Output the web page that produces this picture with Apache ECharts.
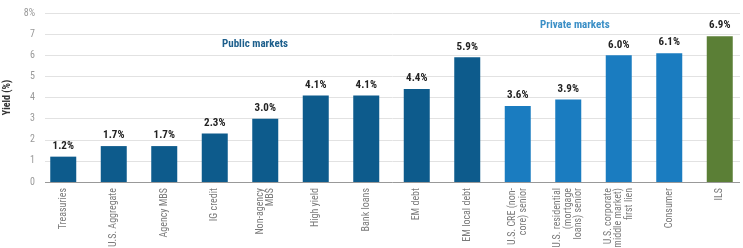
<!DOCTYPE html>
<html>
<head>
<meta charset="utf-8">
<script src="https://cdn.jsdelivr.net/npm/echarts@6/dist/echarts.min.js"></script>
<style>html,body{margin:0;padding:0;background:#fff;}#c{width:743px;height:248px;}</style>
</head>
<body>
<div id="c"></div>
<script>
const categories = ["Treasuries","U.S. Aggregate","Agency MBS","IG credit","Non-agency\nMBS","High yield","Bank loans","EM debt","EM local debt","U.S. CRE (non-\ncore) senior","U.S. residential\n(mortgage\nloans) senior","U.S. corporate\n(middle market)\nfirst lien","Consumer","ILS"];
const yields = [1.2,1.7,1.7,2.3,3.0,4.1,4.1,4.4,5.9,3.6,3.9,6.0,6.1,6.9];
const groups = ["public","public","public","public","public","public","public","public","public","private","private","private","private","ils"];
const yTicks = ["0","1","2","3","4","5","6","7","8%"];

const colors = {public:"#0d5b8c", private:"#1a7cc0", ils:"#5b7f36"};
const font = "'Liberation Sans Narrow','Roboto Condensed','Roboto',sans-serif";

const chart = echarts.init(document.getElementById('c'), null, {renderer:'canvas'});
chart.setOption({
  animation:false,
  grid:[
    {left:45, right:3, top:13, bottom:66, outerBoundsMode:'none', containLabel:false},
    {left:38, width:707, top:13, bottom:66, outerBoundsMode:'none', containLabel:false}
  ],
  xAxis:[
    {gridIndex:0, type:'category', data:categories, show:false},
    {gridIndex:1, type:'category', data:categories,
     axisLine:{show:false}, axisTick:{show:false},
     axisLabel:{interval:0, rotate:90, color:'#7a7a7a', fontSize:10, lineHeight:10.5, fontFamily:font, margin:6}}
  ],
  yAxis:[
    {gridIndex:0, type:'value', min:0, max:8, interval:1,
     name:'Yield (%)', nameLocation:'middle', nameGap:28, nameRotate:90,
     nameTextStyle:{color:'#333', fontWeight:'bold', fontSize:10, fontFamily:font},
     axisLine:{show:false}, axisTick:{show:false},
     axisLabel:{color:'#999', fontSize:10, fontFamily:font, margin:10, formatter:(v)=>yTicks[v]},
     splitLine:{lineStyle:{color:'#e2e2e2', width:1}}},
    {gridIndex:1, type:'value', min:0, max:8, interval:1, show:false, splitLine:{show:false}}
  ],
  series:[
    {type:'bar', xAxisIndex:1, yAxisIndex:1, barWidth:26,
     data:yields.map((v,i)=>({value:v, itemStyle:{color:colors[groups[i]]}})),
     label:{show:true, position:'top', distance:5, color:'#222', fontWeight:'bold', fontSize:11, fontFamily:font,
       formatter:(p)=>p.value.toFixed(1)+'%'}},
    {type:'line', xAxisIndex:0, yAxisIndex:0, data:[], silent:true,
     markLine:{symbol:'none', silent:true, label:{show:false}, lineStyle:{color:'#999', type:'solid', width:1}, data:[{yAxis:0}]}}
  ],
  graphic:[
    {type:'text', left:222, top:39, style:{text:'Public markets', fill:'#1d5f8c', font:"bold 11px "+font}},
    {type:'text', left:540, top:20, style:{text:'Private markets', fill:'#3b8fc6', font:"bold 11px "+font}}
  ]
});
</script>
</body>
</html>
